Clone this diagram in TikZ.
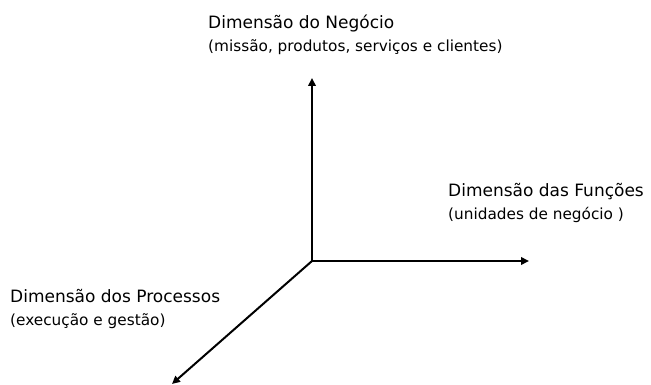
\documentclass[tikz,border=0pt]{standalone}
\usepackage{fontspec}
\setmainfont{DejaVu Sans}
\usetikzlibrary{arrows.meta}
\begin{document}
\begin{tikzpicture}[x=1pt,y=-1pt,
  axis/.style={line width=2pt,-{Triangle[length=8pt,width=7.5pt]}},
  lbl/.style={anchor=north west,inner sep=0pt,align=left},
  big/.style={font=\fontsize{17}{20}\selectfont},
  small/.style={font=\fontsize{15.3}{18}\selectfont}]
\useasboundingbox (0,0) rectangle (651,385);
\coordinate (o) at (312,261);
\coordinate (up) at (312,78);
\coordinate (right) at (529,261);
\coordinate (dl) at (172,384);
\draw[axis] (o) -- (up);
\draw[axis] (o) -- (right);
\draw[axis] (o) -- (dl);
\node[lbl,big] (n1) at (208,15) {Dimensão do Negócio};
\node[lbl,small] (n1b) at (208,39) {(missão, produtos, serviços e clientes)};
\node[lbl,big] (n2) at (448,183) {Dimensão das Funções};
\node[lbl,small] (n2b) at (448,207) {(unidades de negócio )};
\node[lbl,big] (n3) at (10,289) {Dimensão dos Processos};
\node[lbl,small] (n3b) at (10,313) {(execução e gestão)};
\end{tikzpicture}
\end{document}
